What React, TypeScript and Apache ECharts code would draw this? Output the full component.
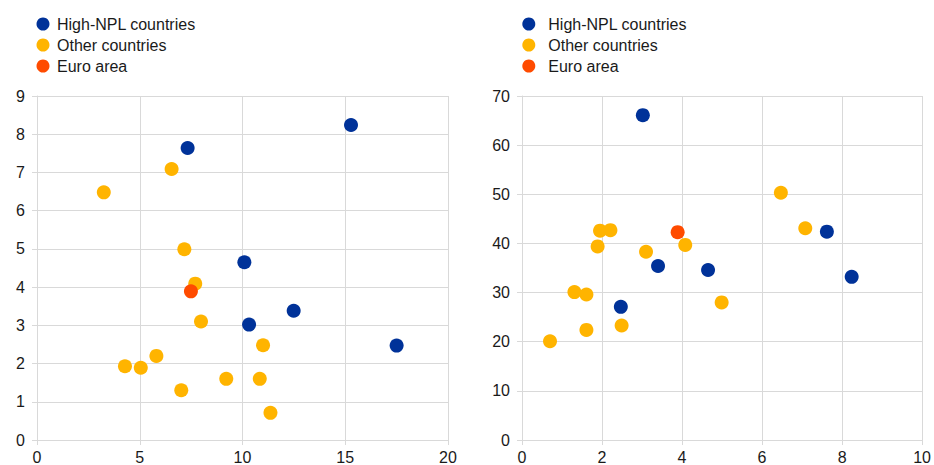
import React, { useEffect, useRef } from "react";
import * as echarts from "echarts";

const seriesNames = ["High-NPL countries", "Other countries", "Euro area"];
const colors = ["#003299", "#FFB400", "#FF4B00"];

// Left panel
const leftHighNpl: [number, number][] = [
  [7.33, 7.64], [15.28, 8.24], [10.09, 4.65], [10.32, 3.02], [12.49, 3.38], [17.5, 2.47],
];
const leftOther: [number, number][] = [
  [3.25, 6.48], [6.55, 7.09], [7.17, 4.99], [7.7, 4.09], [7.98, 3.1], [11.0, 2.48],
  [5.81, 2.2], [4.28, 1.93], [5.05, 1.89], [9.21, 1.6], [10.84, 1.6], [7.02, 1.3], [11.36, 0.71],
];
const leftEuro: [number, number][] = [[7.49, 3.89]];

// Right panel
const rightHighNpl: [number, number][] = [
  [3.02, 66.1], [7.62, 42.4], [8.24, 33.2], [3.4, 35.4], [4.65, 34.6], [2.47, 27.1],
];
const rightOther: [number, number][] = [
  [6.47, 50.3], [7.08, 43.1], [1.95, 42.6], [2.21, 42.7], [1.89, 39.4], [4.08, 39.7],
  [3.1, 38.3], [1.31, 30.1], [1.61, 29.6], [4.99, 28.0], [1.61, 22.4], [2.49, 23.3], [0.7, 20.1],
];
const rightEuro: [number, number][] = [[3.89, 42.3]];

const leftX = { min: 0, max: 20, interval: 5 };
const leftY = { min: 0, max: 9, interval: 1 };
const rightX = { min: 0, max: 10, interval: 2 };
const rightY = { min: 0, max: 70, interval: 10 };

const FONT = "'Liberation Sans', Arial, sans-serif";
const GRID_COLOR = "#d9d9d9";

function axis(cfg: { min: number; max: number; interval: number }, gridIndex: number, isX: boolean) {
  return {
    type: "value",
    gridIndex,
    min: cfg.min,
    max: cfg.max,
    interval: cfg.interval,
    axisLine: { show: true, lineStyle: { color: GRID_COLOR, width: 1 } },
    axisTick: { show: true, length: 5, lineStyle: { color: GRID_COLOR } },
    splitLine: { show: true, lineStyle: { color: GRID_COLOR, width: 1 } },
    axisLabel: {
      color: "#1a1a1a",
      fontSize: 16,
      fontFamily: FONT,
      margin: isX ? 9 : 12,
    },
  };
}

export default function App() {
  const ref = useRef<HTMLDivElement>(null);
  useEffect(() => {
    if (!ref.current) return;
    const chart = echarts.init(ref.current, null, { renderer: "svg" });
    const mk = (name: string, data: [number, number][], idx: number, color: string) => ({
      name,
      type: "scatter",
      xAxisIndex: idx,
      yAxisIndex: idx,
      data,
      symbol: "circle",
      symbolSize: 14,
      itemStyle: { color, opacity: 1 },
      emphasis: { disabled: true },
    });
    const legendBase = {
      orient: "vertical",
      icon: "circle",
      itemWidth: 13,
      itemHeight: 13,
      itemGap: 0,
      padding: 0,
      data: seriesNames,
      selectedMode: false,
    };
    chart.setOption({
      animation: false,
      textStyle: { fontFamily: FONT },
      legend: [
        {
          ...legendBase,
          left: 36.5,
          top: 13.5,
          textStyle: { fontSize: 16, color: "#1a1a1a", fontFamily: FONT, lineHeight: 21, padding: [0, 0, 0, 2.5] },
        },
        {
          ...legendBase,
          left: 522.3,
          top: 13.5,
          textStyle: { fontSize: 16, color: "#1a1a1a", fontFamily: FONT, lineHeight: 21, padding: [0, 0, 0, 8] },
        },
      ],
      grid: [
        { left: 37, top: 96, width: 411, height: 344 },
        { left: 522, top: 96, width: 402, height: 344 },
      ],
      xAxis: [axis(leftX, 0, true), axis(rightX, 1, true)],
      yAxis: [axis(leftY, 0, false), axis(rightY, 1, false)],
      series: [
        mk(seriesNames[0], leftHighNpl, 0, colors[0]),
        mk(seriesNames[1], leftOther, 0, colors[1]),
        mk(seriesNames[2], leftEuro, 0, colors[2]),
        mk(seriesNames[0], rightHighNpl, 1, colors[0]),
        mk(seriesNames[1], rightOther, 1, colors[1]),
        mk(seriesNames[2], rightEuro, 1, colors[2]),
      ],
    });
    return () => chart.dispose();
  }, []);
  return (
    <div
      ref={ref}
      style={{ position: "fixed", left: 0, top: 0, width: 934, height: 465, background: "#fff" }}
    />
  );
}
